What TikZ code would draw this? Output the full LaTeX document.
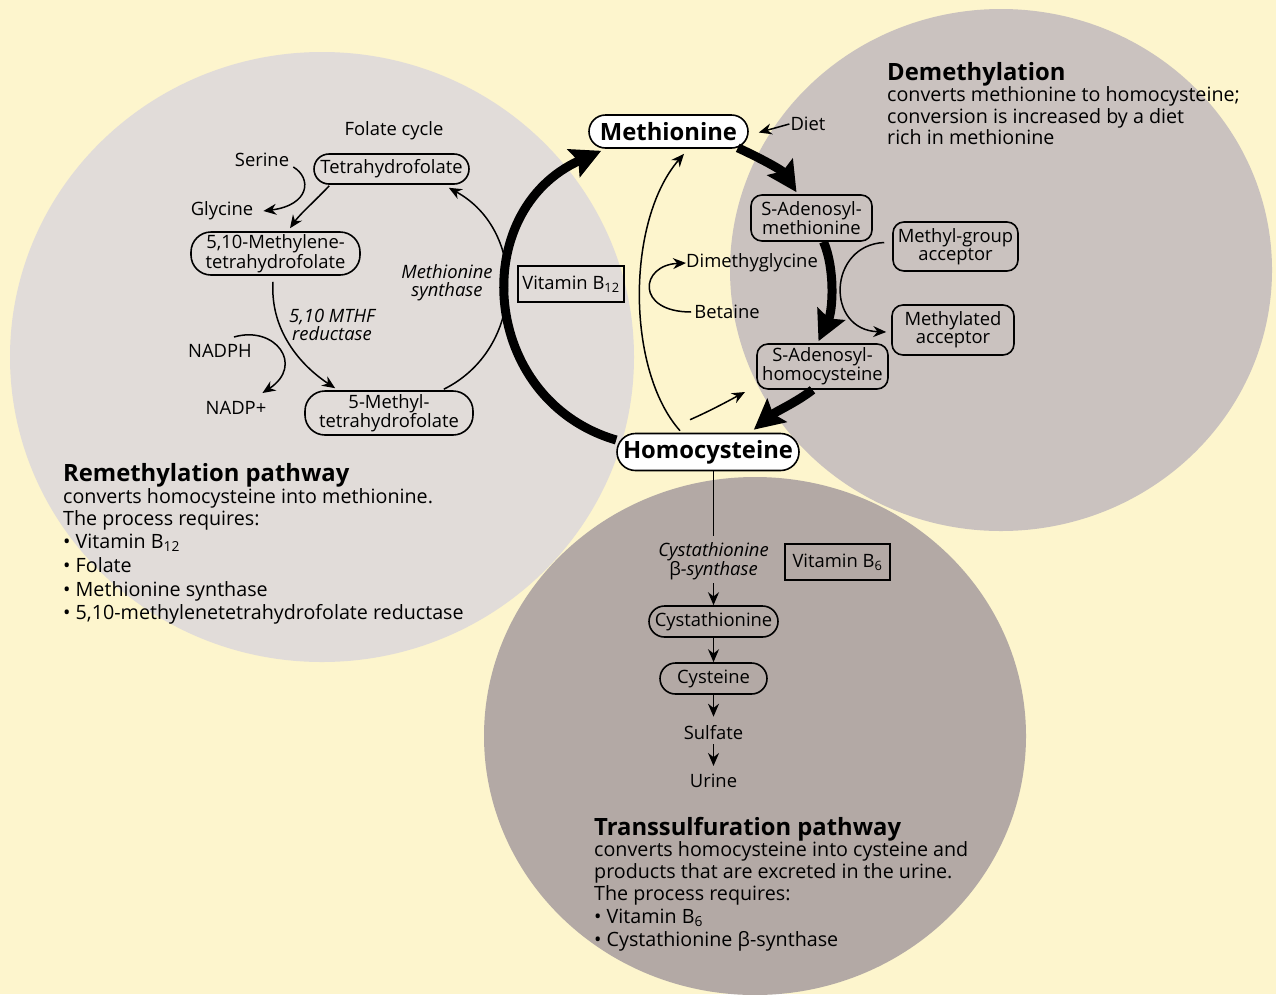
\documentclass[tikz,border=0pt]{standalone}
\usepackage{fontspec}
\setmainfont{Open Sans}
\usetikzlibrary{arrows.meta,calc}
\definecolor{bgc}{HTML}{FDF5CD}
\definecolor{leftc}{HTML}{E1DCD9}
\definecolor{rightc}{HTML}{CAC2BF}
\definecolor{botc}{HTML}{B3A9A5}
\newcommand\fsnode{\fontsize{18.4}{18}\selectfont}
\newcommand\fsbody{\fontsize{19.7}{21}\selectfont}
\newcommand\fstitle{\fontsize{23.8}{26}\selectfont\bfseries}
\tikzset{
  pill/.style={draw, line width=1.6, inner sep=0, align=center, font=\fsnode},
  rbox/.style={draw, line width=1.6, rounded corners=11, inner sep=0, align=center, font=\fsnode},
  sqbox/.style={draw, line width=1.4, inner sep=0, font=\fsnode},
  lbl/.style={inner sep=0, align=center, font=\fsnode},
  txt/.style={inner sep=0, font=\fsbody, anchor=base west},
  tarrow/.style={line width=1.5, -{Stealth[length=13pt,width=11pt]}},
  barrow/.style={line width=9, -{Stealth[length=30pt,width=30pt,inset=5pt]}},
}
\begin{document}
\begin{tikzpicture}[x=1pt,y=-1pt]
\useasboundingbox (0,0) rectangle (1276,994);
\fill[bgc] (0,0) rectangle (1276,994);
\fill[leftc] (322,357) ellipse [x radius=312pt, y radius=305pt];
\fill[rightc] (1001,270) ellipse [x radius=271pt, y radius=261pt];
\fill[botc] (755,736) ellipse [x radius=271pt, y radius=259pt];

% main nodes
\node[pill, fill=white, rounded corners=16.5, minimum width=159, minimum height=33, font=\fstitle] (met) at (668.5,131.5) {Methionine};
\node[pill, fill=white, rounded corners=18.5, minimum width=182, minimum height=37, font=\fstitle] (hcy) at (708,452) {Homocysteine};

% folate cycle
\node[lbl] (fc) at (394,131) {Folate cycle};
\node[pill, rounded corners=15, minimum width=155, minimum height=30] (thf) at (391.5,169) {Tetrahydrofolate};
\node[pill, rounded corners=20, minimum width=169, minimum height=43] (mthf) at (275.5,253.5) {5,10-Methylene-\\tetrahydrofolate};
\node[pill, rounded corners=20, minimum width=168, minimum height=44] (methf) at (389,413) {5-Methyl-\\tetrahydrofolate};
\node[lbl] (serine) at (262,160) {Serine};
\node[lbl] (glycine) at (222,211) {Glycine};
\node[lbl] (nadph) at (220,351) {NADPH};
\node[lbl] (nadpp) at (236,408) {NADP+};
\node[lbl, font=\fsnode\itshape] (ms) at (447,283) {Methionine\\synthase};
\node[lbl, font=\fsnode\itshape] (mtr) at (332,325) {5,10 MTHF\\reductase};
\node[sqbox, minimum width=106, minimum height=36] (vb12) at (571,284) {Vitamin B\textsubscript{12}};

% demethylation side
\node[rbox, minimum width=121, minimum height=46] (sam) at (811.5,218) {S-Adenosyl-\\methionine};
\node[rbox, minimum width=125, minimum height=49] (mga) at (955.5,246.5) {Methyl-group\\acceptor};
\node[rbox, minimum width=122, minimum height=50] (ma) at (953,330) {Methylated\\acceptor};
\node[rbox, minimum width=131, minimum height=45] (sah) at (822.5,366.5) {S-Adenosyl-\\homocysteine};
\node[lbl] (dmg) at (752,263) {Dimethyglycine};
\node[lbl] (bet) at (727,312) {Betaine};
\node[lbl] (diet) at (808,124) {Diet};
\coordinate (sdm) at (745,392);

% transsulfuration
\node[lbl, font=\fsnode\itshape] (cbs) at (713.5,561) {Cystathionine\\{\upshape β}-synthase};
\node[sqbox, minimum width=105, minimum height=36] (vb6) at (837.5,562) {Vitamin B\textsubscript{6}};
\node[pill, rounded corners=15.5, minimum width=129, minimum height=31] (cysta) at (713.5,621.5) {Cystathionine};
\node[pill, rounded corners=15.5, minimum width=107, minimum height=31] (cys) at (713.5,678.5) {Cysteine};
\node[lbl] (sulf) at (713.5,733) {Sulfate};
\node[lbl] (urine) at (713.5,781) {Urine};

% texts
\node[txt] (dt0) at (887,80) {\fstitle Demethylation};
\node[txt] (dt1) at (887,101.5) {converts methionine to homocysteine;};
\node[txt] (dt2) at (887,123) {conversion is increased by a diet};
\node[txt] (dt3) at (887,144.5) {rich in methionine};

\node[txt] (rt0) at (63,481) {\fstitle Remethylation pathway};
\node[txt] (rt1) at (63,503) {converts homocysteine into methionine.};
\node[txt] (rt2) at (63,525) {The process requires:};
\node[txt] (rt3) at (63,548) {• Vitamin B\textsubscript{12}};
\node[txt] (rt4) at (63,572) {• Folate};
\node[txt] (rt5) at (63,596) {• Methionine synthase};
\node[txt] (rt6) at (63,619) {• 5,10-methylenetetrahydrofolate reductase};

\node[txt] (tt0) at (594,835) {\fstitle Transsulfuration pathway};
\node[txt] (tt1) at (594,856) {converts homocysteine into cysteine and};
\node[txt] (tt2) at (594,878) {products that are excreted in the urine.};
\node[txt] (tt3) at (594,900) {The process requires:};
\node[txt] (tt4) at (594,923) {• Vitamin B\textsubscript{6}};
\node[txt] (tt5) at (594,946) {• Cystathionine β-synthase};

% folate cycle connectors
\draw[tarrow] ($(thf.south west)+(16,1)$) .. controls (316,200) and (300,214) .. ($(mthf.north)+(14.5,-3)$);
\draw[tarrow] ($(serine.east)+(4,7)$) .. controls (312,178) and (310,205) .. ($(glycine.east)+(10,0)$);
\draw[tarrow] ($(mthf.south)+(-2.5,6)$) .. controls (270,330) and (300,365) .. ($(methf.north west)+(31,-2)$);
\draw[tarrow] ($(nadph.east)+(-18,-14)$) .. controls (275,325) and (305,365) .. ($(nadpp.east)+(-4,-15)$);
\draw[tarrow] ($(methf.north east)+(-30,-1)$) .. controls (525,349) and (528,231) .. ($(thf.south east)+(-21,3)$);

% main cycle
\draw[barrow] ($(hcy.west)+(0,-12)$) .. controls (480,400) and (467,211) .. ($(met.south west)+(13,2)$);
\draw[barrow] ($(met.south east)+(-11,-1)$) .. controls (760,158) and (782,170) .. ($(sam.north)+(-15,-2)$);
\draw[barrow] ($(sam.south)+(12,0)$) .. controls (835,268) and (833,310) .. ($(sah.north)+(-4,-2)$);
\draw[barrow] ($(sah.south)+(-10,0)$) .. controls (797,402) and (775,412) .. ($(hcy.north east)+(-46,-3)$);

\draw[tarrow] ($(hcy.north)+(-28,-2)$) .. controls (626,370) and (626,221) .. ($(met.south)+(15.5,5)$);
\draw[tarrow] ($(hcy.north)+(-18,-13)$) .. controls (712,410) and (730,400) .. (sdm);
\draw[tarrow] ($(bet.west)+(-3,0)$) .. controls (635,312) and (640,265) .. (dmg.west);
\draw[tarrow] ($(diet.west)+(-1,0)$) -- ($(met.east)+(10,1)$);
\draw[tarrow] ($(mga.west)+(-8,-4)$) .. controls (828,245) and (825,330) .. ($(ma.west)+(-5,2)$);

% transsulfuration connectors
\draw[line width=1.5] ($(hcy.south)+(5.5,0)$) -- ($(cbs.north)+(0,-6)$);
\draw[tarrow] ($(cbs.south)+(0,3)$) -- (cysta.north);
\draw[tarrow] (cysta.south) -- (cys.north);
\draw[tarrow] (cys.south) -- ($(sulf.north)+(0,-9)$);
\draw[tarrow] ($(sulf.south)+(0,4)$) -- ($(urine.north)+(0,-8)$);
\end{tikzpicture}
\end{document}
